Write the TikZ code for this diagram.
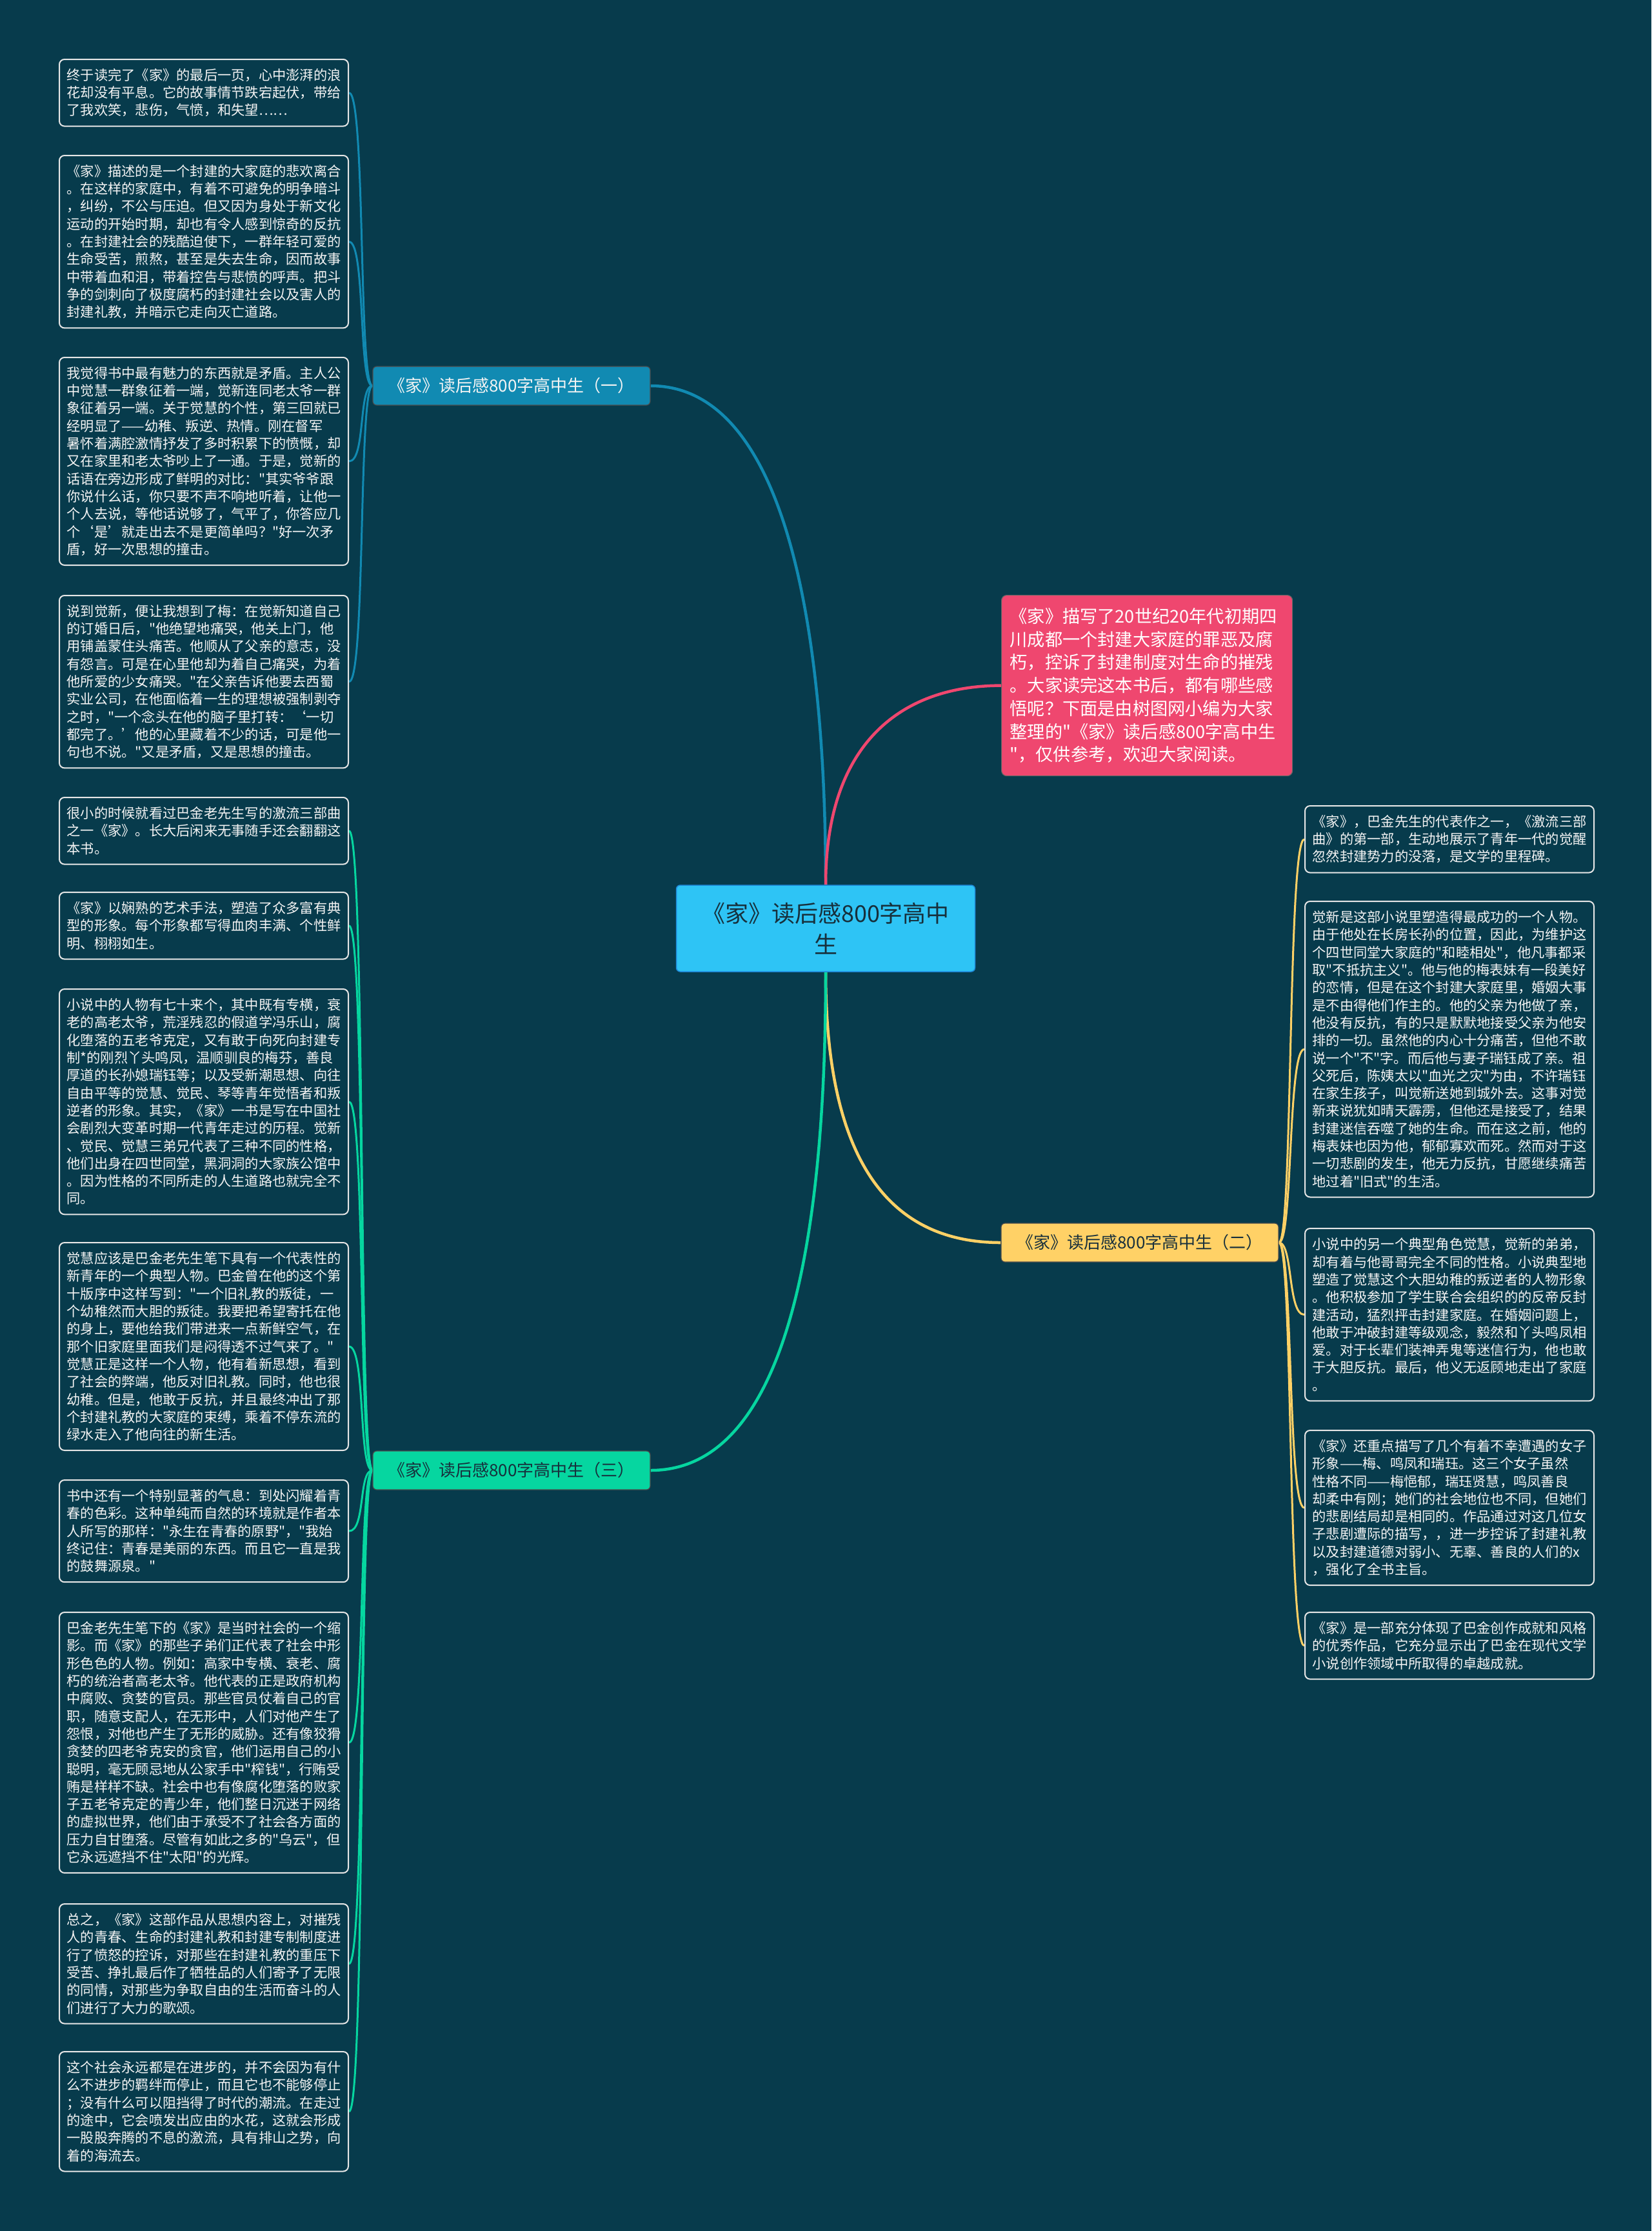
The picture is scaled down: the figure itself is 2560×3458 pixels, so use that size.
\documentclass[tikz,border=0pt]{standalone}
\usepackage{fontspec}
\setmainfont{Noto Sans CJK SC}
\newfontfamily\cjkf{Noto Sans CJK SC}
\usetikzlibrary{backgrounds}
\definecolor{bg}{HTML}{073B4C}
\definecolor{pinkc}{HTML}{EF476F}
\definecolor{yellowc}{HTML}{FFD166}
\definecolor{greenc}{HTML}{06D6A0}
\definecolor{bluec}{HTML}{118AB2}
\definecolor{centerc}{HTML}{2EC4F5}
\definecolor{centerb}{HTML}{1E88D8}
\definecolor{leafborder}{HTML}{E6E6E6}
\definecolor{leaftext}{HTML}{F4F4F4}
\definecolor{darktext}{HTML}{17303C}
\begin{document}
\begin{tikzpicture}[x=1pt,y=-1pt,
  leaf/.style={draw=leafborder, line width=2pt, rounded corners=8pt, fill=bg, text=leaftext,
    font=\cjkf\fontsize{21.25}{27.3}\selectfont, text width=425pt, align=left,
    inner xsep=11.5pt, inner ysep=0pt, anchor=north west},
  branchbox/.style={draw=black!70, line width=1.2pt, rounded corners=6pt, minimum width=430pt,
    minimum height=60pt, inner sep=0pt, font=\cjkf\fontsize{26}{30}\selectfont, align=center},
  mainline/.style={line width=4.5pt},
  leafline/.style={line width=3pt}
]
\useasboundingbox (0,0) rectangle (2560,3458);

% ---------- central node ----------
\node[draw=centerb, line width=1.5pt, fill=centerc, rounded corners=6pt, minimum width=463pt,
  minimum height=134pt, inner sep=0pt, text=darktext, align=center,
  font=\cjkf\fontsize{36}{48}\selectfont] (center) at (1280,1439) {《家》读后感800字高中\\生};

% ---------- branch nodes ----------
\node[branchbox, fill=bluec, text=leaftext] (b1) at (793,598) {《家》读后感800字高中生（一）};
\node[branchbox, fill=yellowc, text=darktext] (b2) at (1767,1926) {《家》读后感800字高中生（二）};
\node[branchbox, fill=greenc, text=darktext] (b3) at (793,2279) {《家》读后感800字高中生（三）};

% ---------- intro node ----------
\node[draw=black!60, line width=1.2pt, fill=pinkc, rounded corners=8pt, anchor=north west,
  minimum height=280pt, text width=425pt, inner xsep=13pt, inner ysep=0pt, align=left,
  text=white, font=\cjkf\fontsize{27.2}{35.7}\selectfont] (intro) at (1552,922)
{《家》描写了20世纪20年代初期四\\
川成都一个封建大家庭的罪恶及腐\\
朽，控诉了封建制度对生命的摧残\\
。大家读完这本书后，都有哪些感\\
悟呢？下面是由树图网小编为大家\\
整理的"《家》读后感800字高中生\\
"，仅供参考，欢迎大家阅读。};

% ---------- left leaves, branch one ----------
\node[leaf, minimum height=103.6pt] (l1) at (91,91)
{终于读完了《家》的最后一页，心中澎湃的浪\\
花却没有平息。它的故事情节跌宕起伏，带给\\
了我欢笑，悲伤，气愤，和失望……};

\node[leaf, minimum height=267.4pt] (l2) at (91,240)
{《家》描述的是一个封建的大家庭的悲欢离合\\
。在这样的家庭中，有着不可避免的明争暗斗\\
，纠纷，不公与压迫。但又因为身处于新文化\\
运动的开始时期，却也有令人感到惊奇的反抗\\
。在封建社会的残酷迫使下，一群年轻可爱的\\
生命受苦，煎熬，甚至是失去生命，因而故事\\
中带着血和泪，带着控告与悲愤的呼声。把斗\\
争的剑刺向了极度腐朽的封建社会以及害人的\\
封建礼教，并暗示它走向灭亡道路。};

\node[leaf, minimum height=322pt] (l3) at (91,553)
{我觉得书中最有魅力的东西就是矛盾。主人公\\
中觉慧一群象征着一端，觉新连同老太爷一群\\
象征着另一端。关于觉慧的个性，第三回就已\\
经明显了——幼稚、叛逆、热情。刚在督军\\
暑怀着满腔激情抒发了多时积累下的愤慨，却\\
又在家里和老太爷吵上了一通。于是，觉新的\\
话语在旁边形成了鲜明的对比："其实爷爷跟\\
你说什么话，你只要不声不响地听着，让他一\\
个人去说，等他话说够了，气平了，你答应几\\
个‘是’就走出去不是更简单吗？"好一次矛\\
盾，好一次思想的撞击。};

\node[leaf, minimum height=267.4pt] (l4) at (91,922)
{说到觉新，便让我想到了梅：在觉新知道自己\\
的订婚日后，"他绝望地痛哭，他关上门，他\\
用铺盖蒙住头痛苦。他顺从了父亲的意志，没\\
有怨言。可是在心里他却为着自己痛哭，为着\\
他所爱的少女痛哭。"在父亲告诉他要去西蜀\\
实业公司，在他面临着一生的理想被强制剥夺\\
之时，"一个念头在他的脑子里打转：‘一切\\
都完了。’他的心里藏着不少的话，可是他一\\
句也不说。"又是矛盾，又是思想的撞击。};

% ---------- left leaves, branch three ----------
\node[leaf, minimum height=103.6pt] (l5) at (91,1235)
{很小的时候就看过巴金老先生写的激流三部曲\\
之一《家》。长大后闲来无事随手还会翻翻这\\
本书。};

\node[leaf, minimum height=103.6pt] (l6) at (91,1382)
{《家》以娴熟的艺术手法，塑造了众多富有典\\
型的形象。每个形象都写得血肉丰满、个性鲜\\
明、栩栩如生。};

\node[leaf, minimum height=349.3pt] (l7) at (91,1532)
{小说中的人物有七十来个，其中既有专横，衰\\
老的高老太爷，荒淫残忍的假道学冯乐山，腐\\
化堕落的五老爷克定，又有敢于向死向封建专\\
制*的刚烈丫头鸣凤，温顺驯良的梅芬，善良\\
厚道的长孙媳瑞钰等；以及受新潮思想、向往\\
自由平等的觉慧、觉民、琴等青年觉悟者和叛\\
逆者的形象。其实，《家》一书是写在中国社\\
会剧烈大变革时期一代青年走过的历程。觉新\\
、觉民、觉慧三弟兄代表了三种不同的性格，\\
他们出身在四世同堂，黑洞洞的大家族公馆中\\
。因为性格的不同所走的人生道路也就完全不\\
同。};

\node[leaf, minimum height=322pt] (l8) at (91,1925)
{觉慧应该是巴金老先生笔下具有一个代表性的\\
新青年的一个典型人物。巴金曾在他的这个第\\
十版序中这样写到："一个旧礼教的叛徒，一\\
个幼稚然而大胆的叛徒。我要把希望寄托在他\\
的身上，要他给我们带进来一点新鲜空气，在\\
那个旧家庭里面我们是闷得透不过气来了。"\\
觉慧正是这样一个人物，他有着新思想，看到\\
了社会的弊端，他反对旧礼教。同时，他也很\\
幼稚。但是，他敢于反抗，并且最终冲出了那\\
个封建礼教的大家庭的束缚，乘着不停东流的\\
绿水走入了他向往的新生活。};

\node[leaf, minimum height=158.2pt] (l9) at (91,2293)
{书中还有一个特别显著的气息：到处闪耀着青\\
春的色彩。这种单纯而自然的环境就是作者本\\
人所写的那样："永生在青春的原野"，"我始\\
终记住：青春是美丽的东西。而且它一直是我\\
的鼓舞源泉。"};

\node[leaf, minimum height=403.9pt] (l10) at (91,2498)
{巴金老先生笔下的《家》是当时社会的一个缩\\
影。而《家》的那些子弟们正代表了社会中形\\
形色色的人物。例如：高家中专横、衰老、腐\\
朽的统治者高老太爷。他代表的正是政府机构\\
中腐败、贪婪的官员。那些官员仗着自己的官\\
职，随意支配人，在无形中，人们对他产生了\\
怨恨，对他也产生了无形的威胁。还有像狡猾\\
贪婪的四老爷克安的贪官，他们运用自己的小\\
聪明，毫无顾忌地从公家手中"榨钱"，行贿受\\
贿是样样不缺。社会中也有像腐化堕落的败家\\
子五老爷克定的青少年，他们整日沉迷于网络\\
的虚拟世界，他们由于承受不了社会各方面的\\
压力自甘堕落。尽管有如此之多的"乌云"，但\\
它永远遮挡不住"太阳"的光辉。};

\node[leaf, minimum height=185.5pt] (l11) at (91,2950)
{总之，《家》这部作品从思想内容上，对摧残\\
人的青春、生命的封建礼教和封建专制制度进\\
行了愤怒的控诉，对那些在封建礼教的重压下\\
受苦、挣扎最后作了牺牲品的人们寄予了无限\\
的同情，对那些为争取自由的生活而奋斗的人\\
们进行了大力的歌颂。};

\node[leaf, minimum height=185.5pt] (l12) at (91,3179)
{这个社会永远都是在进步的，并不会因为有什\\
么不进步的羁绊而停止，而且它也不能够停止\\
；没有什么可以阻挡得了时代的潮流。在走过\\
的途中，它会喷发出应由的水花，这就会形成\\
一股股奔腾的不息的激流，具有排山之势，向\\
着的海流去。};

% ---------- right leaves, branch two ----------
\node[leaf, minimum height=103.6pt] (r1) at (2022,1248)
{《家》，巴金先生的代表作之一，《激流三部\\
曲》的第一部，生动地展示了青年一代的觉醒\\
忽然封建势力的没落，是文学的里程碑。};

\node[leaf, minimum height=458.5pt] (r2) at (2022,1396)
{觉新是这部小说里塑造得最成功的一个人物。\\
由于他处在长房长孙的位置，因此，为维护这\\
个四世同堂大家庭的"和睦相处"，他凡事都采\\
取"不抵抗主义"。他与他的梅表妹有一段美好\\
的恋情，但是在这个封建大家庭里，婚姻大事\\
是不由得他们作主的。他的父亲为他做了亲，\\
他没有反抗，有的只是默默地接受父亲为他安\\
排的一切。虽然他的内心十分痛苦，但他不敢\\
说一个"不"字。而后他与妻子瑞钰成了亲。祖\\
父死后，陈姨太以"血光之灾"为由，不许瑞钰\\
在家生孩子，叫觉新送她到城外去。这事对觉\\
新来说犹如晴天霹雳，但他还是接受了，结果\\
封建迷信吞噬了她的生命。而在这之前，他的\\
梅表妹也因为他，郁郁寡欢而死。然而对于这\\
一切悲剧的发生，他无力反抗，甘愿继续痛苦\\
地过着"旧式"的生活。};

\node[leaf, minimum height=267.4pt] (r3) at (2022,1903)
{小说中的另一个典型角色觉慧，觉新的弟弟，\\
却有着与他哥哥完全不同的性格。小说典型地\\
塑造了觉慧这个大胆幼稚的叛逆者的人物形象\\
。他积极参加了学生联合会组织的的反帝反封\\
建活动，猛烈抨击封建家庭。在婚姻问题上，\\
他敢于冲破封建等级观念，毅然和丫头鸣凤相\\
爱。对于长辈们装神弄鬼等迷信行为，他也敢\\
于大胆反抗。最后，他义无返顾地走出了家庭\\
。};

\node[leaf, minimum height=240.1pt] (r4) at (2022,2216)
{《家》还重点描写了几个有着不幸遭遇的女子\\
形象——梅、鸣凤和瑞珏。这三个女子虽然\\
性格不同——梅悒郁，瑞珏贤慧，鸣凤善良\\
却柔中有刚；她们的社会地位也不同，但她们\\
的悲剧结局却是相同的。作品通过对这几位女\\
子悲剧遭际的描写，，进一步控诉了封建礼教\\
以及封建道德对弱小、无辜、善良的人们的x\\
，强化了全书主旨。};

\node[leaf, minimum height=103.6pt] (r5) at (2022,2498)
{《家》是一部充分体现了巴金创作成就和风格\\
的优秀作品，它充分显示出了巴金在现代文学\\
小说创作领域中所取得的卓越成就。};

% ---------- connectors (behind the boxes) ----------
\begin{scope}[on background layer]
\fill[bg] (0,0) rectangle (2560,3458);
\draw[mainline, bluec] (center.north) .. controls +(0,-422) and +(202,0) .. (b1.east);
\draw[mainline, pinkc] (center.north) .. controls +(0,-222) and +(-152,0) .. (intro.west);
\draw[mainline, yellowc] (center.south) .. controls +(0,294) and +(-172,0) .. (b2.west);
\draw[mainline, greenc] (center.south) .. controls +(0,444) and +(202,0) .. (b3.east);
\foreach \n in {l1,l2,l3,l4}
  \draw[leafline, bluec] (b1.west) .. controls +(-22,0) and +(26,0) .. (\n.east);
\foreach \n in {l5,l6,l7,l8,l9,l10,l11,l12}
  \draw[leafline, greenc] (b3.west) .. controls +(-22,0) and +(26,0) .. (\n.east);
\foreach \n in {r1,r2,r3,r4,r5}
  \draw[leafline, yellowc] (b2.east) .. controls +(22,0) and +(-26,0) .. (\n.west);
\end{scope}
\end{tikzpicture}
\end{document}
